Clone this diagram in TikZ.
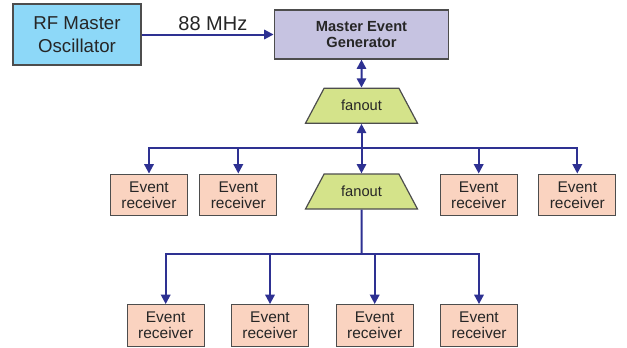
\documentclass[tikz,border=0pt]{standalone}
\usepackage{fontspec}
\setsansfont{Liberation Sans}
\usetikzlibrary{shapes.geometric,arrows.meta}
\definecolor{oscblue}{HTML}{8DD8F8}
\definecolor{meglilac}{HTML}{C6C3E1}
\definecolor{fangreen}{HTML}{D4E38A}
\definecolor{erpeach}{HTML}{FAD3C0}
\definecolor{linkblue}{HTML}{2E3192}
\definecolor{edgegrey}{HTML}{4D4D4D}
\begin{document}
\begin{tikzpicture}[
    x=0.75pt, y=-0.75pt,
    every node/.style={align=center, font=\sffamily, text=black!85, inner sep=2pt},
    box/.style={draw=edgegrey, line width=0.9pt},
    oscbox/.style={box, fill=oscblue, minimum width=96pt, minimum height=45.75pt, font=\sffamily\fontsize{14}{17.5}\selectfont},
    megbox/.style={box, fill=meglilac, minimum width=131pt, minimum height=36.75pt, font=\sffamily\bfseries\fontsize{11}{11.5}\selectfont},
    fanbox/.style={box, trapezium, trapezium stretches=true, trapezium left angle=54.5, trapezium right angle=54.5, fill=fangreen, minimum width=84pt, minimum height=26.25pt, font=\sffamily\fontsize{11}{12}\selectfont},
    erbox/.style={box, fill=erpeach, minimum width=57.75pt, minimum height=31.25pt, font=\sffamily\fontsize{11.6}{12}\selectfont},
    link/.style={draw=linkblue, line width=1.5pt, -{Triangle[length=7pt,width=7pt]}},
    duallink/.style={link, {Triangle[length=7pt,width=7pt]}-{Triangle[length=7pt,width=7pt]}}
]
\useasboundingbox (0,0) rectangle (627,347);

\node[oscbox] (osc) at (77,34.5) {RF Master\\Oscillator};
\node[megbox] (meg) at (361.5,34.5) {Master Event\\Generator};
\node[fanbox] (fan1) at (361.5,105.7) {fanout};
\node[fanbox] (fan2) at (361.5,191.5) {fanout};

\node[erbox] (er1) at (149,195) {Event\\receiver};
\node[erbox] (er2) at (238.3,195) {Event\\receiver};
\node[erbox] (er3) at (478.7,195) {Event\\receiver};
\node[erbox] (er4) at (577.3,195) {Event\\receiver};

\node[erbox] (er5) at (165.7,325.5) {Event\\receiver};
\node[erbox] (er6) at (270,325.5) {Event\\receiver};
\node[erbox] (er7) at (374.7,325.5) {Event\\receiver};
\node[erbox] (er8) at (479,325.5) {Event\\receiver};

\coordinate (bus1) at (361.5,148);
\coordinate (bus2) at (361.5,254);

\draw[link] (osc) -- node[above=0pt, xshift=4pt, font=\sffamily\fontsize{15}{17}\selectfont] (mhz) {88 MHz} (meg);
\draw[duallink] (meg.south) -- (fan1.north);
\draw[duallink] (fan1.south) -- (fan2.north);
\foreach \r in {er1,er2,er3,er4}
    \draw[link] (bus1) -| (\r.north);
\draw[link,-] (fan2.south) -- (bus2);
\foreach \r in {er5,er6,er7,er8}
    \draw[link] (bus2) -| (\r.north);
\end{tikzpicture}
\end{document}
